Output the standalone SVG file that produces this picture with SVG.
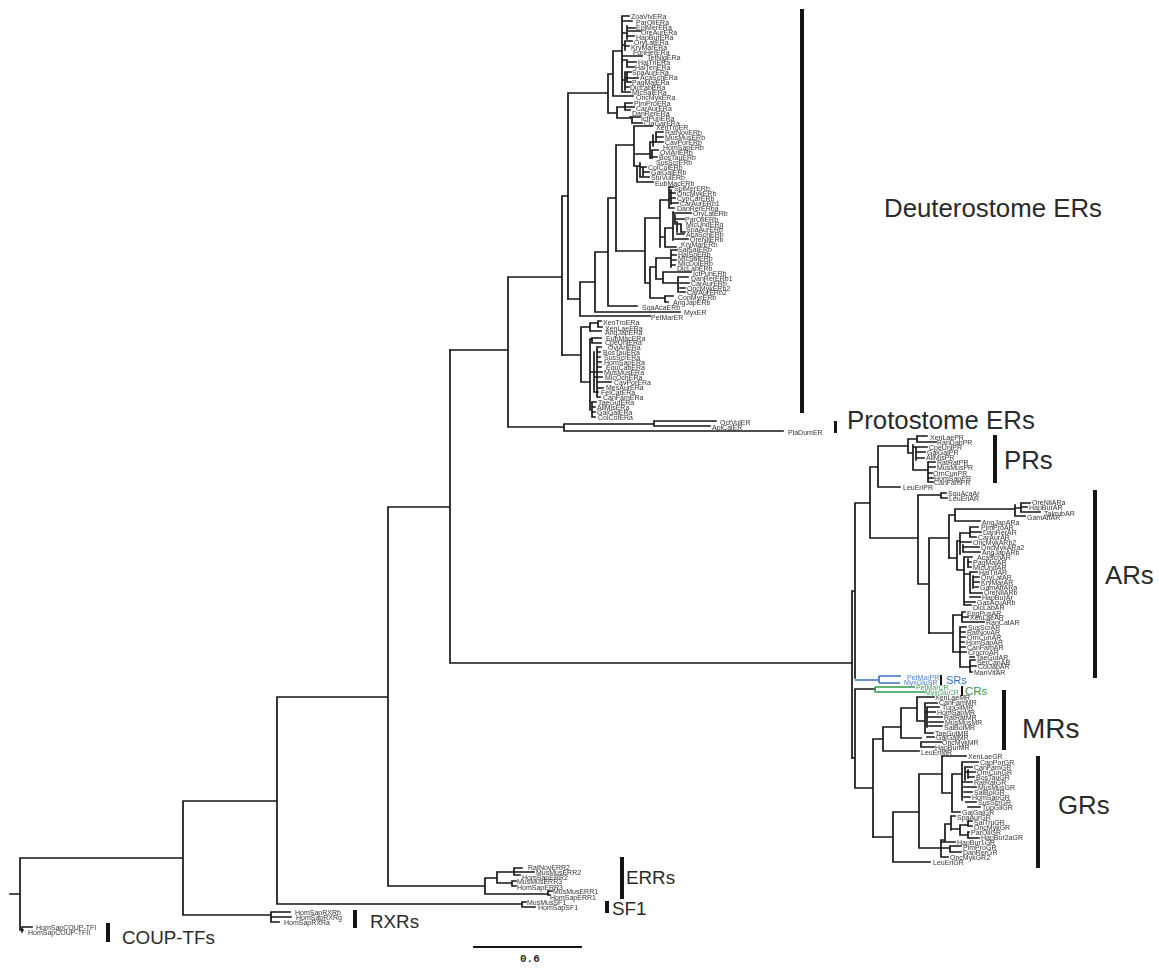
<svg xmlns="http://www.w3.org/2000/svg" width="1159" height="971" viewBox="0 0 1159 971">
<defs><filter id="s" x="-20%" y="-20%" width="140%" height="140%"><feGaussianBlur stdDeviation="0.25"/></filter></defs>
<style>
text{font-family:"Liberation Sans",Arial,sans-serif;fill:#2a2a2a}
.t{filter:url(#s)}
.t text{font-size:7px;fill:#333}
.c{font-size:25.800px}
.d{font-size:18.800px}
.e{fill:none;stroke:#161616;stroke-width:1.700;stroke-linecap:square}
.b{fill:#151515}
</style>
<rect width="1159" height="971" fill="#fff"/>
<g id="connectors">
<path class="e" d="M10 894H20M20 858V930M20 858H183M20 930H23M22 927V932M22 927H32M183 801V915M183 915H270M271 912V922M271 912H290M271 917H291M271 922H279M183 801H277M277 697V904M277 904H522M522 902V907M522 902H526M522 907H535M277 697H388M388 507V886M388 886H485M485 878V894M485 878H497M497 872V883M497 872H514M514 868V875M514 868H522M514 872H534M514 875H520M497 883H512M512 881V886M512 881H516M512 886H516M485 894H548M548 891V895M548 891H552M548 895H550M388 507H450M450 350V663M450 663H852"/>
<path class="e" d="M450 350H508M508 277V427M508 427H564M564 424V431M564 424H654M654 421V426M654 421H716M654 426H710M564 431H783M508 277H562M562 196V355M562 196H568M568 93V299M568 93H608M608 74V113M608 74H613M613 51V96M613 51H622M613 96H633M622 16V92M622 16H629M622 21H632M622 33H627M627 26V39M627 28H635M627 31H640M627 36H634M622 45H625M625 41V50M625 41H632M625 46H629M622 56H642M622 60H627M627 60V67M627 62H636M627 67H634M622 80H625M625 72V90M625 72H631M627 73V82M625 78H638M627 82H631M625 87H629M622 92H630M608 113H617M617 107V118M617 107H624M625 103V110M625 103H632M625 107H634M625 110H630M617 118H630M632 117V123M630 117H640M632 123H642"/>
<path class="e" d="M568 299H580M580 282V316M580 316H650M580 282H595M595 252V312M595 312H680M595 252H608M608 198V306M608 306H637M608 198H616M616 145V251M616 145H634M634 126V166M634 126H652M636 154H650M650 142V158M650 142H655M656 132V142M656 132H663M656 137H663M656 142H663M653 135V146M650 158H652M652 150V157M652 150H658M652 157H657M634 166H640M640 163V177M640 167H646M643 167V176M643 172H649M640 177H649M637 166V182M637 182H653"/>
<path class="e" d="M616 251H645M645 218V283M645 218H660M660 200V247M660 200H668M669 187V208M669 187H673M669 193H675M671 190V204M669 198H675M671 203H678M669 208H674M660 237H665M665 228V247M665 228H673M673 212V240M673 213H691M675 215V224M675 219H684M677 222V232M677 224H681M681 225V232M681 232H685M677 234H684M675 239H688M665 247H676M645 283H650M650 267V298M650 267H656M656 258V279M656 258H670M671 250V267M671 250H677M671 255H676M671 260H676M671 265H675M656 279H663M663 272V283M663 272H691M663 283H678M678 277V292M678 277H688M680 283H689M680 288H685M680 292H685M650 298H665M665 296V302M665 296H673M665 302H668"/>
<path class="e" d="M562 355H581M581 327V382M581 327H590M590 323V331M590 323H598M598 321V327M598 321H601M598 327H602M590 331H601M581 382H590M590 339V410M590 339H592M592 338V343M592 338H601M592 343H601M590 372H594M594 352V392M597 347V397M597 347H601M597 352H600M597 357H600M597 362H601M597 367H601M594 372H602M594 377H602M597 382H611M597 388H603M594 392H598M597 397H600M592 402V417M592 402H596M592 407H595M592 412H595M592 417H595"/>
<path class="e" d="M852 591V758M852 591H855M855 503V678M855 503H870M870 467V538M870 467H878M878 446V487M878 487H900M878 446H908M908 439V453M908 439H917M917 436V442M917 436H927M917 442H936M908 453H913M913 445V470M913 447H927M916 447V460M916 452H925M916 458H924M913 470H928M928 462V482M928 462H935M928 467H935M928 473H932M928 478H933M928 482H933M870 538H918M918 495V584M918 495H940M941 493V498M941 493H946M941 498H947M918 584H929M929 538V633M929 538H949M949 515V558M949 515H955M955 509V521M955 509H1015M1015 505V516M1015 508H1021M1021 503V512M1021 503H1030M1021 507H1027M1021 512H1040M1015 516H1025M955 521H980"/>
<path class="e" d="M949 558H957M957 541V570M957 541H960M960 533V554M960 533H970M970 527V537M970 527H978M970 532H981M970 537H976M960 542H971M963 545V552M963 547H979M963 552H980M957 570H964M964 557V605M964 557H972M968 559V567M968 562H971M968 567H971M964 574H970M970 572V593M970 572H977M973 576V588M973 577H979M973 582H979M975 587H978M970 593H982M970 597H980M964 602H975M964 605H971M929 633H953M953 615V652M953 615H962M962 612V622M962 612H965M962 617H968M962 622H984M953 652H960M960 627V667M960 627H966M960 632H965M960 637H965M960 642H964M960 647H965M960 652H966M960 667H970M970 660V672M970 657H974M970 660H975M970 666H976M970 672H972"/>
<path class="e" d="M855 689V788M855 689H875M855 758H852M856 788H873M873 739V837M873 739H883M883 727V751M883 727H901M901 708V738M901 708H917M917 697V721M917 697H934M917 721H925M925 703V733M925 703H937M927 707V727M927 707H939M925 712H935M928 717H942M929 722H943M929 726H942M925 733H933M927 737H934M901 738H921M921 742V747M921 742H941M921 747H934M883 751H919"/>
<path class="e" d="M873 837H893M893 812V862M893 812H919M893 862H930M919 774V848M919 774H942M942 756V793M942 756H966M942 793H952M952 774V812M952 812H960M952 774H962M962 762V788M962 762H978M965 767V780M965 767H972M965 772H975M968 770V778M968 777H974M962 782H972M964 787H976M962 788V800M964 792H972M964 797H970M966 802H976M968 807H980M919 848H941M941 840V857M941 840H945M945 824V841M945 824H951M951 816V830M951 816H955M951 829H960M960 825V835M960 825H968M968 821V826M968 821H972M968 826H972M960 835H968M968 832V838M968 832H969M968 838H979M941 842H955M941 848H950M950 846V852M950 846H961M950 852H961M941 857H948"/>
<path fill="none" stroke="#3d6fc0" stroke-width="1.600" d="M855 680H879M879 676V683M879 676H901M879 683H900"/>
<path fill="none" stroke="#2f9a4e" stroke-width="1.600" d="M875 687V692M875 687H915M875 692H925"/>
</g>
<g id="deuterostome-ers"><rect class="b" x="800" y="9" width="4" height="404"/><text class="c" x="884" y="217">Deuterostome ERs</text>
<g class="t" id="era-tips"><text x="631" y="18.500">ZoaVivERa</text><text x="636" y="24.500">ParOliERa</text><text x="636" y="29.500">EpiMerERa</text><text x="641" y="34.500">OreAurERa</text><text x="636" y="39.500">HapBurERa</text><text x="634" y="44.500">OryLatERa</text><text x="631" y="49.500">KryMarERa</text><text x="633" y="54.500">FunHetERa</text><text x="647" y="60">TetNigERa</text><text x="638" y="64.500">HalTriERa</text><text x="635" y="69.500">HalTenERa</text><text x="632" y="75">SpaAurERa</text><text x="640" y="80">AcaSchERa</text><text x="632" y="85">PagMajERa</text><text x="630" y="90">DicLabERa</text><text x="632" y="95">MicSalERa</text><text x="636" y="100">OncMykERa</text><text x="634" y="105.500">PimProERa</text><text x="636" y="110.500">CarAurERa</text><text x="632" y="115.500">DanRerERa</text><text x="641" y="120.500">IctPunERa</text><text x="644" y="125.500">ClaGarERa</text></g>
<g class="t" id="erb-tips"><text x="656" y="130">XenTroER</text><text x="665" y="134.500">RatNovERb</text><text x="665" y="139.500">MusMusERb</text><text x="665" y="144.500">CavPorERb</text><text x="663" y="149.500">HomSapERb</text><text x="660" y="154.500">OviAriERb</text><text x="659" y="159.500">BosTauERb</text><text x="656" y="164.500">SusScrERb</text><text x="648" y="170">ColColERb</text><text x="651" y="175">GalGalERb</text><text x="651" y="180">StuVulERb</text><text x="655" y="185.500">EubMacERb</text><text x="674" y="190.500">SpiMerERb</text><text x="677" y="195.500">OncMykERb</text><text x="677" y="200.500">CypCarERb</text><text x="680" y="205.500">CarAurERb1</text><text x="677" y="210.500">DanRerERba</text><text x="693" y="215.500">OryLatERb</text><text x="685" y="221.500">ParOliERb</text><text x="686" y="226.500">MicUndERg</text><text x="686" y="231.500">SpaAurERb</text><text x="686" y="236.500">AcaSchERb</text><text x="690" y="241.500">OreNilERb</text><text x="681" y="246.500">KryMarERb</text><text x="678" y="251.500">SalSalERb</text><text x="678" y="256.500">HalSpERb</text><text x="678" y="260.500">MicSalERb</text><text x="678" y="265.500">MicDolERb</text><text x="677" y="270.500">DicLabERb</text><text x="693" y="275.500">IctPunERb</text><text x="691" y="280.500">DanRerERb1</text><text x="691" y="285.500">CarAurERb</text><text x="687" y="290.500">OncMykERb2</text><text x="687" y="294.500">CarAurERb2</text><text x="678" y="299.500">ConMyrERb</text><text x="673" y="305">AngJapERb</text><text x="642" y="309.500">SqaAcaERb</text><text x="684" y="314.500">MyxER</text><text x="651" y="319.500">PetMarER</text></g>
<g class="t" id="era2-tips"><text x="603" y="325">XenTroERa</text><text x="605" y="330.500">XenLaeERa</text><text x="605" y="335">AngJapERa</text><text x="606" y="340.500">EubMacERa</text><text x="605" y="345">CpeUniERa</text><text x="608" y="349.500">OviAriERa</text><text x="603" y="355">BosTauERa</text><text x="604" y="359.500">SusScrERa</text><text x="604" y="365">HomSapERa</text><text x="606" y="370">EquCabERa</text><text x="604" y="374.500">MusMusERa</text><text x="605" y="380">MicOchERa</text><text x="614" y="385">CavPorERa</text><text x="606" y="390">MesAurERa</text><text x="601" y="395">FelCatERa</text><text x="603" y="400">CanFamERa</text><text x="598" y="405">TaeGutERa</text><text x="597" y="410">AllMisERa</text><text x="597" y="415">GalGalERa</text><text x="598" y="420">ColCotERa</text></g></g>
<g id="protostome-ers"><rect class="b" x="834" y="421" width="3" height="12"/><text class="c" x="847" y="429">Protostome ERs</text>
<g class="t"><text x="720" y="424.500">OctVulER</text><text x="712" y="429.500">AplCalER</text><text x="788" y="434.500">PlaDumER</text></g></g>
<g id="prs"><rect class="b" x="993" y="435" width="4" height="48"/><text class="c" x="1004" y="469">PRs</text>
<g class="t"><text x="930" y="440">XenLaePR</text><text x="937" y="444.500">RanDabPR</text><text x="929" y="449.500">CpeUniPR</text><text x="927" y="454.500">GalGalPR</text><text x="926" y="459.500">AllMisPR</text><text x="937" y="464.500">RatRatPR</text><text x="937" y="469.500">MusMusPR</text><text x="933" y="475.500">OrnCunPR</text><text x="934" y="480.500">HomSapPR</text><text x="934" y="485">CanFamPR</text><text x="903" y="489.500">LeuEriPR</text></g></g>
<g id="ars"><rect class="b" x="1093" y="490" width="4" height="188"/><text class="c" x="1105" y="584">ARs</text>
<g class="t"><text x="948" y="495.500">SquAcaAr</text><text x="949" y="500.500">LeuEriAR</text><text x="1032" y="504.500">OreNilARa</text><text x="1029" y="509.500">HapBurAR</text><text x="1044" y="515.500">TakrubAR</text><text x="1027" y="519.500">GamAffAR</text><text x="982" y="524.500">AngJapARa</text><text x="981" y="529.500">PimProAR</text><text x="983" y="534.500">DanRerAR</text><text x="978" y="539.500">CarAurAR</text><text x="973" y="545">OncMykARb2</text><text x="981" y="550">OncMykARa2</text><text x="982" y="555">AngJapARb</text><text x="977" y="559.500">AcaSchAR</text><text x="973" y="564.500">PagMajAR</text><text x="973" y="569.500">MicUndAR</text><text x="979" y="574.500">HalTriAR</text><text x="981" y="579.500">OryLatAR</text><text x="981" y="584.500">KryMarAR</text><text x="980" y="589.500">GamAffARa</text><text x="984" y="594.500">OreNilARb</text><text x="982" y="599.500">HapBurAr</text><text x="977" y="604.500">GasAcuARb</text><text x="973" y="609.500">DicLabAR</text><text x="967" y="615.500">EngPusAR</text><text x="970" y="619.500">XenLaeAR</text><text x="986" y="625">RanCatAR</text><text x="968" y="630">SusScrAR</text><text x="967" y="635">RatNovAR</text><text x="967" y="639.500">OrnCunAR</text><text x="966" y="644.500">HomSapAR</text><text x="967" y="649.500">CanFamAR</text><text x="968" y="654.500">CrocroAR</text><text x="976" y="659.500">TaeGutAR</text><text x="977" y="664.500">SerCanAR</text><text x="978" y="669">ColJapAR</text><text x="974" y="674.500">ManVitAR</text></g></g>
<g id="srs"><rect class="b" x="940" y="675" width="2" height="10"/><text x="946" y="684" font-size="11" style="fill:#3d6fc0">SRs</text>
<g class="t"><text x="907" y="679.500" style="fill:#4a7fd0">PetMarPR</text><text x="904" y="684.500" style="fill:#4a7fd0">MyxGluSR</text></g></g>
<g id="crs"><rect class="b" x="961" y="686" width="2" height="10"/><text x="965" y="695" font-size="11.500" style="fill:#2f9a4e">CRs</text>
<g class="t"><text x="916" y="689.500" style="fill:#3ca35a">PetMarCR</text><text x="925" y="694.500" style="fill:#3ca35a">MyxGluCR</text></g></g>
<g id="mrs"><rect class="b" x="1002" y="690" width="4" height="60"/><text x="1022" y="738" font-size="28">MRs</text>
<g class="t"><text x="935" y="699.500">XenLaeMR</text><text x="939" y="704.500">CanFamMR</text><text x="942" y="709.500">TupGliMR</text><text x="937" y="715">HomSapMR</text><text x="944" y="719.500">RatRatMR</text><text x="945" y="724.500">MusMusMR</text><text x="944" y="729.500">SaiBolMR</text><text x="935" y="735.500">TaeGutMR</text><text x="936" y="739.500">GalGalMR</text><text x="942" y="744.500">OncMykMR</text><text x="935" y="749.500">HapBurMR</text><text x="921" y="754.500">LeuEriMR</text></g></g>
<g id="grs"><rect class="b" x="1036" y="756" width="4" height="112"/><text class="c" x="1058" y="814">GRs</text>
<g class="t"><text x="968" y="758.500">XenLaeGR</text><text x="980" y="764.500">CapPorGR</text><text x="974" y="769.500">CanFamGR</text><text x="977" y="774.500">OrnCunGR</text><text x="976" y="779.500">BosTauGR</text><text x="974" y="784.500">RatRatGR</text><text x="978" y="789.500">MusMusGR</text><text x="974" y="794.500">SalBolGR</text><text x="972" y="799.500">HomSapGR</text><text x="978" y="804.500">SusScrGR</text><text x="982" y="809.500">TupGliGR</text><text x="962" y="814.500">GalGalGR</text><text x="957" y="819.500">SpaAurGR</text><text x="974" y="824.500">SalTruGR</text><text x="974" y="829.500">OncMykGR</text><text x="971" y="834.500">ParOliGR</text><text x="981" y="839.500">HapBur2aGR</text><text x="957" y="844.500">HapBur1GR</text><text x="963" y="849.500">PimProGR</text><text x="963" y="854.500">DanRerGR</text><text x="950" y="859.500">OncMykGR2</text><text x="933" y="864.500">LeuEriGR</text></g></g>
<g id="errs"><rect class="b" x="620" y="857" width="4" height="42"/><text class="d" x="626" y="884">ERRs</text>
<g class="t"><text x="528" y="869.500">RatNovERR2</text><text x="536" y="874.500">MusMusERR2</text><text x="522" y="879.500">HomSapERR2</text><text x="517" y="883.500">MusMusERR3</text><text x="517" y="889.500">HomSapERR3</text><text x="553" y="893.500">MusMusERR1</text><text x="550" y="899.500">HomSapERR1</text></g></g>
<g id="sf1"><rect class="b" x="605" y="901" width="4" height="12"/><text class="d" x="612" y="915">SF1</text>
<g class="t"><text x="527" y="904.500">MusMusSF1</text><text x="538" y="909.500">HomSapSF1</text></g></g>
<g id="rxrs"><rect class="b" x="353" y="910" width="4" height="18"/><text class="d" x="370" y="928">RXRs</text>
<g class="t"><text x="295" y="915">HomSapRXRb</text><text x="296" y="920">HomSapRXRg</text><text x="284" y="925">HomSapRXRa</text></g></g>
<g id="coup-tfs"><rect class="b" x="106" y="923" width="4" height="19"/><text class="d" x="122" y="944">COUP-TFs</text>
<g class="t"><text x="36" y="929.500">HomSapCOUP-TFI</text><text x="28" y="934.500">HomSapCOUP-TFII</text></g></g>
<g id="scale-bar"><rect class="b" x="473" y="946" width="109" height="2"/><text x="520" y="962" font-size="11" font-weight="700" style="font-family:'Liberation Mono',monospace">0.6</text></g>
</svg>
